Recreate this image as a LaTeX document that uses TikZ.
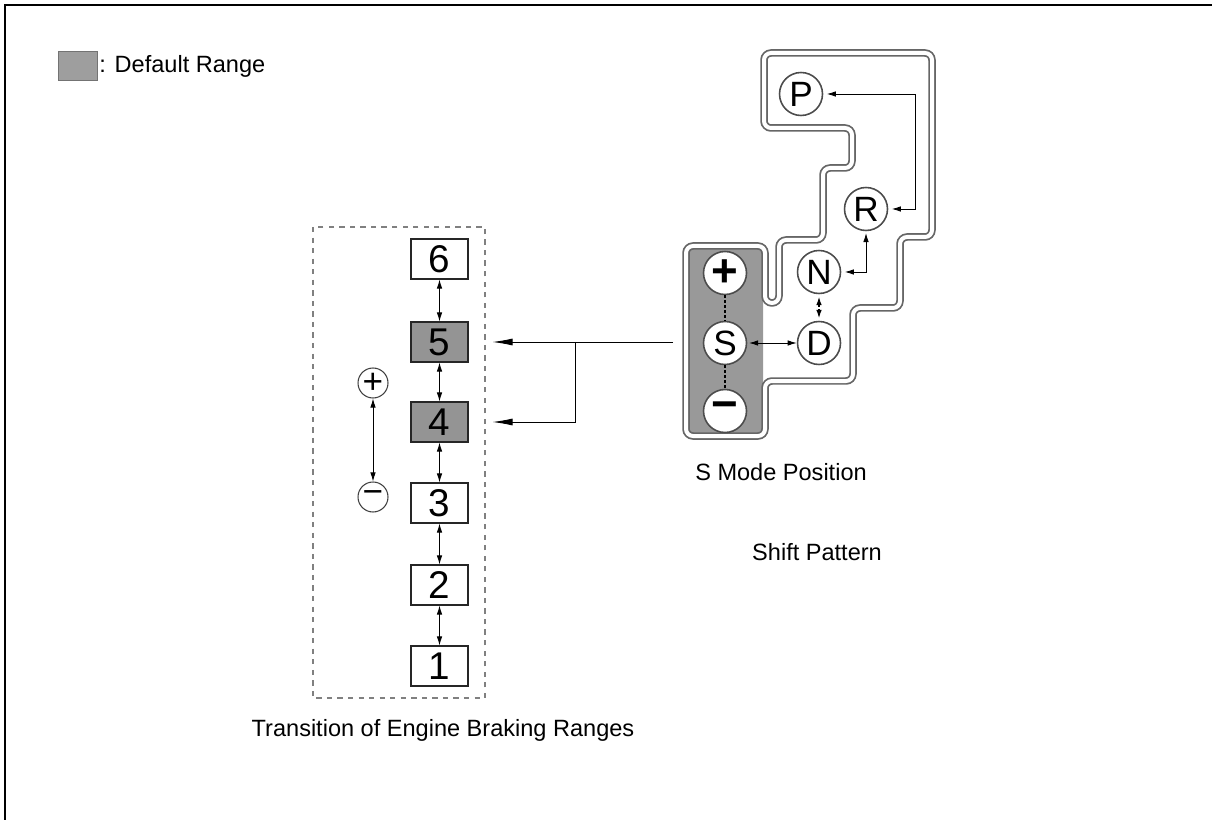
\documentclass[tikz,border=0pt]{standalone}
\usepackage{fontspec}
\setmainfont{Liberation Sans}
\usetikzlibrary{arrows.meta}
\tikzset{
  rangebox/.style={draw=black!85, line width=0.6pt, minimum width=1.14cm, minimum height=0.8cm, inner sep=0pt, font=\fontsize{22}{22}\selectfont},
  defaultbox/.style={rangebox, fill=black!42},
  gear/.style={circle, draw=black!70, line width=0.9pt, fill=white, minimum size=0.86cm, inner sep=0pt, font=\fontsize{20}{20}\selectfont},
  signgear/.style={gear, font=\fontsize{26}{26}\selectfont\bfseries},
  smallsign/.style={circle, draw=black!75, line width=0.6pt, fill=white, minimum size=0.6cm, inner sep=0pt, font=\fontsize{20}{20}\selectfont},
  captext/.style={inner sep=1pt, font=\fontsize{13.4}{16}\selectfont},
  gate/.style={draw=black!60, line width=0.035cm, double=white, double distance=0.08cm, rounded corners=0.14cm},
  twoway/.style={{Latex[length=1.8mm,width=1.1mm]}-{Latex[length=1.8mm,width=1.1mm]}, line width=0.5pt},
  dots/.style={twoway, line width=1.3pt, dash pattern=on 0.06cm off 0.04cm},
  bigarrow/.style={-{Latex[length=4mm,width=1.4mm]}, line width=0.5pt},
}
\begin{document}
\begin{tikzpicture}[x=0.02cm, y=-0.02cm]
  \useasboundingbox (0,0) rectangle (1212,820);
  % frame
  \draw[line width=0.04cm] (5,820) -- (5,5) -- (1212,5);

  % legend
  \node[draw=black!55, fill=black!38, minimum width=0.78cm, minimum height=0.58cm, inner sep=0pt] (key) at (77.5,66) {};
  \node[captext, anchor=west] (keytext) at (key.east) {: Default Range};

  % shift gate
  \fill[black!40, rounded corners=0.12cm] (688,248) rectangle (763,434);
  \draw[gate] (848,53) -- (932,53) -- (932,237) -- (900,237) -- (900,308) -- (853,308) -- (853,381)
    -- (765,381) -- (765,436) -- (686,436) -- (686,246) -- (765,246) -- (765,303) -- (779,303)
    -- (779,240) -- (823,240) -- (823,168) -- (852,168) -- (852,128) -- (764,128) -- (764,53) -- cycle;

  \node[gear] (P) at (801,94) {P};
  \node[gear] (R) at (866,209) {R};
  \node[gear] (N) at (819,272) {N};
  \node[gear] (D) at (819,343) {D};
  \node[gear] (S) at (725,343) {S};
  \node[signgear] (plus) at (725,273) {+};
  \node[signgear] (minus) at (725,411) {−};

  \draw[dots, -] (plus) -- (S);
  \draw[dots, -] (S) -- (minus);
  \draw[dots, shorten <=1pt, shorten >=1pt] (N) -- (D);
  \draw[twoway, shorten <=1pt] (S) -- (D);
  \draw[twoway, shorten <=2pt, shorten >=1pt] (N.east) -| (R.south);
  \coordinate (rp) at (915,209);
  \draw[twoway, shorten <=2pt, shorten >=2pt] (R.east) -- (rp) |- (P.east);

  \node[captext] (smode) at (781,472) {S Mode Position};
  \node[captext] (pattern) at (817,552) {Shift Pattern};

  % engine braking ranges
  \draw[black!50, dashed, line width=0.6pt] (313,227) rectangle (485,698);
  \foreach \n/\y/\s in {6/259/rangebox, 5/342/defaultbox, 4/422/defaultbox, 3/503/rangebox, 2/585/rangebox, 1/666/rangebox}
    \node[\s] (g\n) at (439.5,\y) {\n};
  \foreach \a/\b in {6/5, 5/4, 4/3, 3/2, 2/1}
    \draw[twoway] (g\a) -- (g\b);

  \node[smallsign] (up) at (373,383) {+};
  \node[smallsign] (down) at (373,497) {−};
  \draw[twoway] (up) -- (down);

  \node[captext] (trans) at (443,730) {Transition of Engine Braking Ranges};

  % S mode to default ranges
  \coordinate (src) at (673,342);
  \coordinate (fork) at (575,342);
  \draw[bigarrow, shorten >=0.48cm] (src) -- (g5.east);
  \draw[bigarrow, shorten >=0.48cm] (fork) |- (g4.east);
\end{tikzpicture}
\end{document}
